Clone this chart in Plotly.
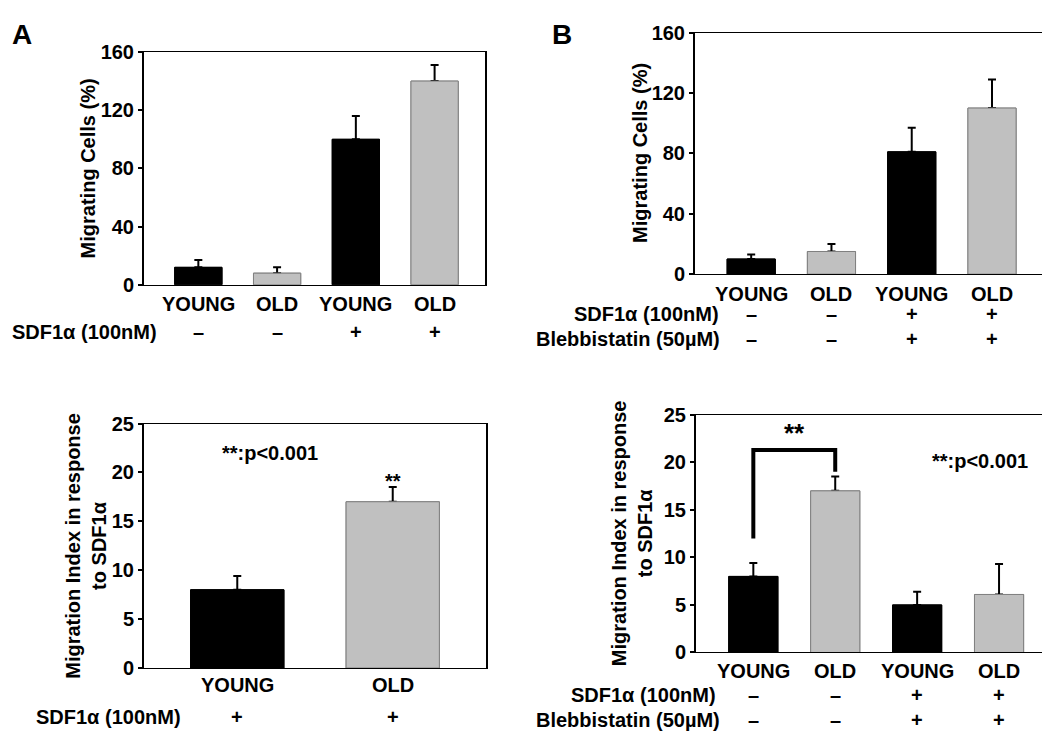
import plotly.graph_objects as go

W, H = 1050, 736
FONT = "Liberation Sans, Arial, sans-serif"

# ---- data ----
# A, top: migrating cells (%)
a_top_groups = ["YOUNG", "OLD", "YOUNG", "OLD"]
a_top_values = [12, 8, 100, 140]
a_top_errors = [5, 4, 16, 11]
a_top_sdf = ["–", "–", "+", "+"]

# B, top: migrating cells (%) with blebbistatin
b_top_groups = ["YOUNG", "OLD", "YOUNG", "OLD"]
b_top_values = [10, 15, 81, 110]
b_top_errors = [3, 5, 16, 19]
b_top_sdf = ["–", "–", "+", "+"]
b_top_bleb = ["–", "–", "+", "+"]

# A, bottom: migration index
a_bot_groups = ["YOUNG", "OLD"]
a_bot_values = [8, 17]
a_bot_errors = [1.4, 1.5]
a_bot_sdf = ["+", "+"]

# B, bottom: migration index with blebbistatin
b_bot_groups = ["YOUNG", "OLD", "YOUNG", "OLD"]
b_bot_values = [8, 17, 5, 6.1]
b_bot_errors = [1.4, 1.5, 1.4, 3.2]
b_bot_sdf = ["–", "–", "+", "+"]
b_bot_bleb = ["–", "–", "+", "+"]

# significance bracket (B bottom)
bracket_x = [0, 0, 1, 1]
bracket_y = [12, 21.3, 21.3, 19]

fill = {"YOUNG": "black", "OLD": "#c0c0c0"}
edge = {"YOUNG": "black", "OLD": "#808080"}


def fx(p):
    return p / W


def fy(p):
    return 1 - p / H


def bold(size):
    return dict(family=FONT, size=size, color="black", weight="bold")


fig = go.Figure()
ann = []

# pixel boxes: left, right, top, bottom
panels = [
    dict(ax="", groups=a_top_groups, vals=a_top_values, errs=a_top_errors,
         box=(136, 477, 34, 274), xr=[-0.69, 3.64], yr=[0, 160], dt=40),
    dict(ax="2", groups=b_top_groups, vals=b_top_values, errs=b_top_errors,
         box=(687, 1041, 14, 263), xr=[-0.70, 3.71], yr=[0, 160], dt=40),
    dict(ax="3", groups=a_bot_groups, vals=a_bot_values, errs=a_bot_errors,
         box=(136, 478, 417, 669), xr=[-0.60, 1.60], yr=[0, 25], dt=5),
    dict(ax="4", groups=b_bot_groups, vals=b_bot_values, errs=b_bot_errors,
         box=(688, 1041, 408, 653), xr=[-0.70, 3.61], yr=[0, 25], dt=5),
]

for p in panels:
    n = len(p["vals"])
    xs = list(range(n))
    common = dict(x=xs, y=p["vals"], width=0.6,
                  marker=dict(color=[fill[g] for g in p["groups"]],
                              line=dict(color=[edge[g] for g in p["groups"]], width=1)),
                  xaxis="x" + p["ax"], yaxis="y" + p["ax"], showlegend=False,
                  hoverinfo="skip")
    fig.add_trace(go.Bar(**common,
                         error_y=dict(type="data", array=p["errs"], arrayminus=[0] * n,
                                      symmetric=False, color="black", thickness=2, width=4)))
    # same bars again so the error bar only rises from the bar top
    fig.add_trace(go.Bar(**common))

    l, r, t, b = p["box"]
    fig.update_layout({
        "xaxis" + p["ax"]: dict(domain=[fx(l), fx(r)], range=p["xr"], anchor="y" + p["ax"],
                                showticklabels=False, showgrid=False, zeroline=False,
                                showline=True, linecolor="black", linewidth=1.3, mirror=True,
                                ticks=""),
        "yaxis" + p["ax"]: dict(domain=[fy(b), fy(t)], range=p["yr"], dtick=p["dt"],
                                anchor="x" + p["ax"], showgrid=False, zeroline=False,
                                showline=True, linecolor="black", linewidth=2, mirror=True,
                                ticks="outside", ticklen=4, tickwidth=1.5, tickcolor="black",
                                tickfont=bold(20)),
    })
    # group names under the bars
    row_y = {"": 294, "2": 283, "3": 687, "4": 672}[p["ax"]]
    for i, g in enumerate(p["groups"]):
        ann.append(dict(x=i, y=fy(row_y), xref="x" + p["ax"], yref="paper", text=g,
                        showarrow=False, font=bold(20), xanchor="center", yanchor="middle"))

# treatment rows: (axis, marks, label, label right edge px, row y px)
rows = [
    ("", a_top_sdf, "SDF1α (100nM)", 151, 323),
    ("2", b_top_sdf, "SDF1α (100nM)", 713, 304),
    ("2", b_top_bleb, "Blebbistatin (50µM)", 714, 330),
    ("3", a_bot_sdf, "SDF1α (100nM)", 175, 720),
    ("4", b_bot_sdf, "SDF1α (100nM)", 710, 697),
    ("4", b_bot_bleb, "Blebbistatin (50µM)", 714, 723),
]
for axn, marks, label, rx, ry in rows:
    ann.append(dict(x=fx(rx), y=fy(ry), xref="paper", yref="paper", text=label,
                    showarrow=False, font=bold(20), xanchor="right", yanchor="middle"))
    for i, m in enumerate(marks):
        ann.append(dict(x=i, y=fy(ry), xref="x" + axn, yref="paper", text=m,
                        showarrow=False, font=bold(20), xanchor="center", yanchor="middle"))

# y axis titles
titles = [
    ("Migrating Cells (%)", 80, 154),
    ("Migrating Cells (%)", 632, 138),
    ("Migration Index in response<br>to SDF1α", 78, 543),
    ("Migration Index in response<br>to SDF1α", 624, 530),
]
for txt, tx, ty in titles:
    ann.append(dict(x=fx(tx), y=fy(ty), xref="paper", yref="paper", text=txt,
                    textangle=-90, showarrow=False, font=bold(20),
                    xanchor="center", yanchor="middle"))

# panel letters
ann.append(dict(x=fx(14), y=fy(16), xref="paper", yref="paper", text="A",
                showarrow=False, font=bold(28), xanchor="center", yanchor="middle"))
ann.append(dict(x=fx(554), y=fy(16), xref="paper", yref="paper", text="B",
                showarrow=False, font=bold(28), xanchor="center", yanchor="middle"))

# significance marks
ann.append(dict(x=0.21, y=22.0, xref="x3", yref="y3", text="**:p<0.001",
                showarrow=False, font=bold(20), xanchor="center", yanchor="middle"))
ann.append(dict(x=1, y=19.1, xref="x3", yref="y3", text="**",
                showarrow=False, font=bold(20), xanchor="center", yanchor="middle"))
ann.append(dict(x=2.77, y=20.1, xref="x4", yref="y4", text="**:p<0.001",
                showarrow=False, font=bold(20), xanchor="center", yanchor="middle"))
ann.append(dict(x=0.5, y=23.1, xref="x4", yref="y4", text="**",
                showarrow=False, font=bold(26), xanchor="center", yanchor="middle"))

fig.add_trace(go.Scatter(x=bracket_x, y=bracket_y, mode="lines",
                         line=dict(color="black", width=4), xaxis="x4", yaxis="y4",
                         showlegend=False, hoverinfo="skip", cliponaxis=False))

fig.update_layout(width=W, height=H, margin=dict(l=0, r=0, t=0, b=0),
                  paper_bgcolor="white", plot_bgcolor="white", barmode="overlay",
                  annotations=ann, showlegend=False)

fig.write_html("out.html")
